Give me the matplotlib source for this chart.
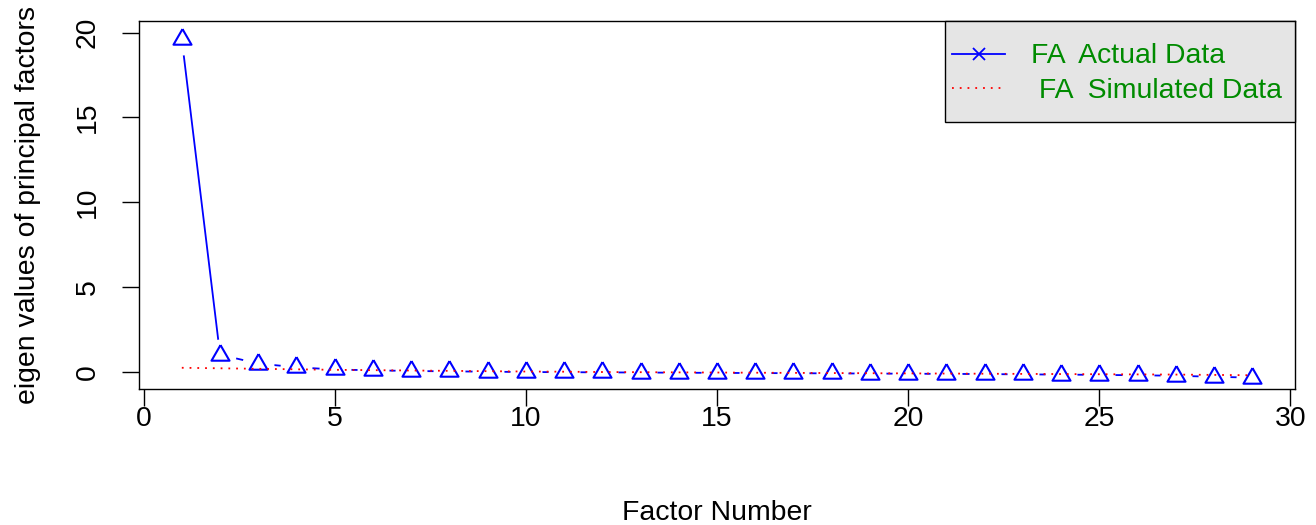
import matplotlib
matplotlib.use("Agg")
import matplotlib.pyplot as plt
from matplotlib.lines import Line2D
from matplotlib.patches import Rectangle

plt.rcParams['font.family'] = ['Liberation Sans', 'DejaVu Sans']

factors = list(range(1, 30))
fa_actual = [19.6, 1.02, 0.50, 0.28, 0.15, 0.10, 0.06, 0.04, 0.02, 0.00,
             -0.01, -0.02, -0.03, -0.04, -0.05, -0.06, -0.07, -0.08, -0.09, -0.10,
             -0.11, -0.12, -0.14, -0.15, -0.17, -0.19, -0.22, -0.28, -0.33]
fa_simulated = [0.25, 0.22, 0.19, 0.16, 0.13, 0.11, 0.09, 0.07, 0.05, 0.03,
                0.02, 0.00, -0.01, -0.02, -0.03, -0.04, -0.05, -0.06, -0.07, -0.08,
                -0.09, -0.10, -0.11, -0.12, -0.13, -0.14, -0.15, -0.17, -0.19]
xticks = [0, 5, 10, 15, 20, 25, 30]
yticks = [0, 5, 10, 15, 20]
legend_labels = ["FA  Actual Data", " FA  Simulated Data"]
xlabel = "Factor Number"
ylabel = "eigen values of principal factors"

FS = 20.4
W, H = 1316, 525
AX_L, AX_R, AX_T, AX_B = 139, 1295, 20.7, 389
fig = plt.figure(figsize=(W / 100, H / 100), dpi=100)
ax = fig.add_axes([AX_L / W, (H - AX_B) / H, (AX_R - AX_L) / W, (AX_B - AX_T) / H])


def fx(px):
    return (px - AX_L) / (AX_R - AX_L)


def fy(py):
    return 1 - (py - AX_T) / (AX_B - AX_T)


# R pch=2 style triangle (centroid-centred)
tri = [(0, 1), (0.866, -0.5), (-0.866, -0.5), (0, 1)]
dotted = (0, (1, 3.3))

ax.plot(factors, fa_actual, color='blue', lw=1.3, zorder=2)
ax.plot(factors, fa_actual, linestyle='none', marker='o', ms=23,
        mfc='white', mec='none', zorder=3)
ax.plot(factors, fa_actual, linestyle='none', marker=tri, ms=15,
        mfc='none', mec='blue', mew=1.5, zorder=4)
ax.plot(factors, fa_simulated, color='red', lw=1.3, linestyle=dotted, zorder=5)

ax.set_xlim(-0.12, 30.12)
ax.set_ylim(-1.0, 20.7)
ax.set_xticks(xticks)
ax.set_yticks(yticks)
ax.tick_params(axis='both', labelsize=FS, length=12, width=1.0, color='black')
ax.tick_params(axis='x', pad=0)
ax.tick_params(axis='y', pad=15.5)
for lab in ax.get_yticklabels():
    lab.set_rotation(90)
    lab.set_va('center')
for s in ax.spines.values():
    s.set_linewidth(1.0)
    s.set_zorder(10)

ax.set_xlabel(xlabel, fontsize=FS, labelpad=49)
ax.set_ylabel(ylabel, fontsize=FS, labelpad=24)

# legend box (R style) at top-right corner
ax.add_patch(Rectangle((fx(945), fy(122)), fx(AX_R) - fx(945), fy(AX_T) - fy(122),
                       transform=ax.transAxes, facecolor='#E5E5E5', edgecolor='black',
                       lw=1.0, zorder=11, clip_on=False))
ax.add_line(Line2D([fx(952), fx(1005)], [fy(54.3), fy(54.3)], transform=ax.transAxes,
                   color='blue', lw=1.3, zorder=12))
ax.add_line(Line2D([fx(978.5)], [fy(54.3)], transform=ax.transAxes, color='blue',
                   marker='x', ms=9, mew=1.3, linestyle='none', zorder=12))
ax.add_line(Line2D([fx(952), fx(1005)], [fy(87.7), fy(87.7)], transform=ax.transAxes,
                   color='red', lw=1.3, linestyle=dotted, zorder=12))
ax.text(fx(1031), fy(63), legend_labels[0], transform=ax.transAxes, fontsize=FS,
        color='#008B00', va='baseline', ha='left', zorder=12)
ax.text(fx(1031), fy(98), legend_labels[1], transform=ax.transAxes, fontsize=FS,
        color='#008B00', va='baseline', ha='left', zorder=12)

fig.savefig("out.png", dpi=100)
